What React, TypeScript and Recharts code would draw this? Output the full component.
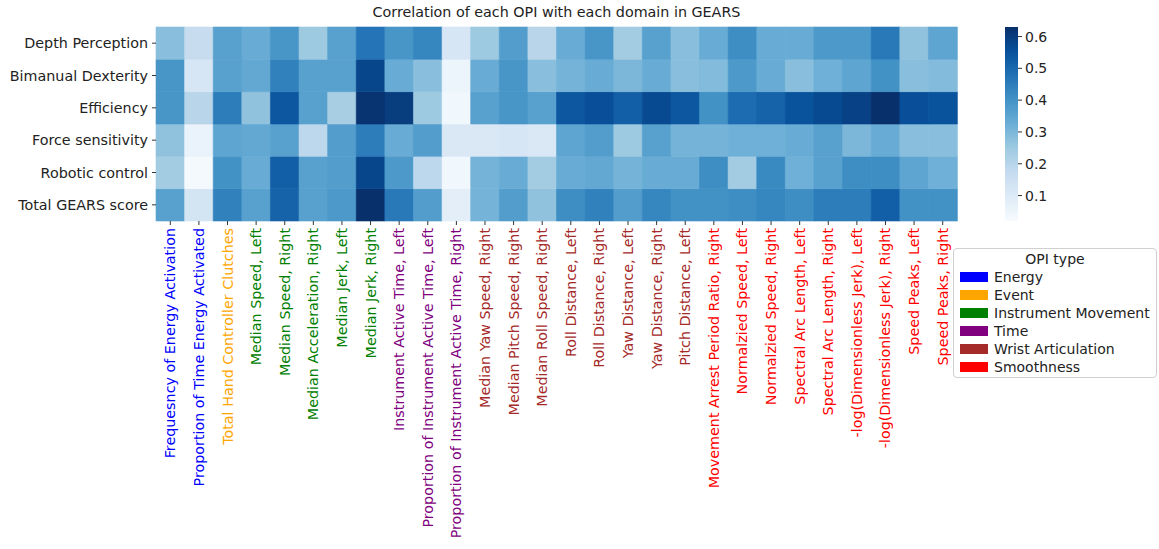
import React from 'react';
import { BarChart, Bar, XAxis, YAxis, Cell } from 'recharts';

const ROWS = ['Depth Perception', 'Bimanual Dexterity', 'Efficiency', 'Force sensitivity', 'Robotic control', 'Total GEARS score'];

const COLUMNS = [
  'Frequesncy of Energy Activation',
  'Proportion of Time Energy Activated',
  'Total Hand Controller Clutches',
  'Median Speed, Left',
  'Median Speed, Right',
  'Median Acceleration, Right',
  'Median Jerk, Left',
  'Median Jerk, Right',
  'Instrument Active Time, Left',
  'Proportion of Instrument Active Time, Left',
  'Proportion of Instrument Active Time, Right',
  'Median Yaw Speed, Right',
  'Median Pitch Speed, Right',
  'Median Roll Speed, Right',
  'Roll Distance, Left',
  'Roll Distance, Right',
  'Yaw Distance, Left',
  'Yaw Distance, Right',
  'Pitch Distance, Left',
  'Movement Arrest Period Ratio, Right',
  'Normalzied Speed, Left',
  'Normalzied Speed, Right',
  'Spectral Arc Length, Left',
  'Spectral Arc Length, Right',
  '-log(Dimensionless Jerk), Left',
  '-log(Dimensionless Jerk), Right',
  'Speed Peaks, Left',
  'Speed Peaks, Right',
];

const COLUMN_TYPES = [
  'Energy', 'Energy', 'Event',
  'Instrument Movement', 'Instrument Movement', 'Instrument Movement', 'Instrument Movement', 'Instrument Movement',
  'Time', 'Time', 'Time',
  'Wrist Articulation', 'Wrist Articulation', 'Wrist Articulation', 'Wrist Articulation', 'Wrist Articulation',
  'Wrist Articulation', 'Wrist Articulation', 'Wrist Articulation',
  'Smoothness', 'Smoothness', 'Smoothness', 'Smoothness', 'Smoothness', 'Smoothness', 'Smoothness', 'Smoothness', 'Smoothness',
];

const OPI_TYPES = ['Energy', 'Event', 'Instrument Movement', 'Time', 'Wrist Articulation', 'Smoothness'];
const OPI_COLORS = ['#0000ff', '#ffa500', '#008000', '#800080', '#a52a2a', '#ff0000'];

const depthPerception = [0.28, 0.17, 0.36, 0.33, 0.39, 0.25, 0.36, 0.47, 0.39, 0.43, 0.12, 0.25, 0.37, 0.20, 0.33, 0.39, 0.24, 0.36, 0.28, 0.33, 0.41, 0.33, 0.33, 0.38, 0.38, 0.46, 0.27, 0.35];
const bimanualDexterity = [0.39, 0.12, 0.36, 0.34, 0.44, 0.36, 0.36, 0.58, 0.33, 0.28, 0.05, 0.33, 0.39, 0.28, 0.31, 0.33, 0.30, 0.33, 0.28, 0.29, 0.38, 0.33, 0.28, 0.32, 0.35, 0.40, 0.28, 0.29];
const efficiency = [0.39, 0.20, 0.45, 0.27, 0.54, 0.36, 0.23, 0.62, 0.60, 0.25, 0.04, 0.36, 0.39, 0.36, 0.54, 0.56, 0.52, 0.57, 0.54, 0.40, 0.49, 0.51, 0.55, 0.57, 0.59, 0.63, 0.56, 0.55];
const forceSensitivity = [0.27, 0.06, 0.35, 0.34, 0.36, 0.19, 0.37, 0.45, 0.33, 0.37, 0.11, 0.11, 0.12, 0.11, 0.35, 0.37, 0.25, 0.36, 0.31, 0.31, 0.32, 0.32, 0.33, 0.36, 0.30, 0.33, 0.28, 0.28];
const roboticControl = [0.24, 0.03, 0.40, 0.33, 0.52, 0.36, 0.37, 0.58, 0.38, 0.19, 0.04, 0.31, 0.33, 0.24, 0.33, 0.34, 0.31, 0.33, 0.33, 0.41, 0.24, 0.42, 0.32, 0.36, 0.41, 0.41, 0.35, 0.32];
const totalGears = [0.36, 0.13, 0.44, 0.36, 0.51, 0.36, 0.38, 0.63, 0.46, 0.37, 0.08, 0.31, 0.37, 0.27, 0.41, 0.44, 0.37, 0.43, 0.40, 0.40, 0.41, 0.43, 0.41, 0.45, 0.45, 0.52, 0.40, 0.40];

const VALUES = [depthPerception, bimanualDexterity, efficiency, forceSensitivity, roboticControl, totalGears];

const VMIN = 0.02;
const VMAX = 0.63;
const COLORBAR_TICKS = [0.1, 0.2, 0.3, 0.4, 0.5, 0.6];

const BLUES = ['#f7fbff', '#deebf7', '#c6dbef', '#9ecae1', '#6baed6', '#4292c6', '#2171b5', '#08519c', '#08306b'];

function hexToRgb(h: string) {
  return [parseInt(h.slice(1, 3), 16), parseInt(h.slice(3, 5), 16), parseInt(h.slice(5, 7), 16)];
}

function blues(v: number) {
  let t = (v - VMIN) / (VMAX - VMIN);
  t = Math.max(0, Math.min(1, t));
  const pos = t * (BLUES.length - 1);
  const i = Math.min(Math.floor(pos), BLUES.length - 2);
  const f = pos - i;
  const a = hexToRgb(BLUES[i]);
  const b = hexToRgb(BLUES[i + 1]);
  const c = a.map((x, k) => Math.round(x + (b[k] - x) * f));
  return `rgb(${c[0]},${c[1]},${c[2]})`;
}

const data = COLUMNS.map((name, i) => {
  const d: any = { name, type: COLUMN_TYPES[i] };
  ROWS.forEach((_, j) => {
    d[`r${j}`] = 1;
  });
  return d;
});

const FONT = '"DejaVu Sans", sans-serif';
const FS = 14.3;

const XTick = (props: any) => {
  const { x, y, payload, index } = props;
  const type = COLUMN_TYPES[index];
  const color = OPI_COLORS[OPI_TYPES.indexOf(type)];
  return (
    <g transform={`translate(${x},${y})`}>
      <text
        x={0}
        y={0}
        transform="rotate(-90)"
        textAnchor="end"
        dominantBaseline="central"
        fill={color}
        fontSize={FS}
        fontFamily={FONT}
      >
        {payload.value}
      </text>
    </g>
  );
};

const cbData = [{ name: 'cb', v: [VMIN, VMAX] }];

export default function App() {
  const rowOrder = [5, 4, 3, 2, 1, 0];
  return (
    <div style={{ position: 'absolute', left: 0, top: 0, width: 1159, height: 549, background: '#fff', fontFamily: FONT }}>
      <div
        style={{
          position: 'absolute',
          left: 156,
          width: 801,
          top: 4,
          textAlign: 'center',
          fontSize: FS,
          color: '#222',
          fontFamily: FONT,
        }}
      >
        Correlation of each OPI with each domain in GEARS
      </div>
      <div style={{ position: 'absolute', left: 0, top: 0 }}>
        <BarChart
          width={1159}
          height={549}
          data={data}
          margin={{ top: 27, right: 202, bottom: 28, left: 0 }}
          barCategoryGap={0}
          barGap={0}
        >
          <XAxis
            dataKey="name"
            interval={0}
            tick={<XTick />}
            tickSize={4}
            tickMargin={3}
            axisLine={false}
            tickLine={{ stroke: '#333' }}
            height={300}
          />
          <YAxis
            type="number"
            domain={[0, 6]}
            ticks={[0.5, 1.5, 2.5, 3.5, 4.5, 5.5]}
            interval={0}
            tickFormatter={(v: number) => ROWS[5 - Math.floor(v)]}
            width={156}
            axisLine={false}
            tickSize={4}
            tickMargin={4}
            tickLine={{ stroke: '#333' }}
            tick={{ fill: '#222', fontSize: FS, fontFamily: FONT }}
          />
          {rowOrder.map((j) => (
            <Bar key={j} dataKey={`r${j}`} stackId="s" isAnimationActive={false}>
              {data.map((_, i) => (
                <Cell key={i} fill={blues(VALUES[j][i])} stroke={blues(VALUES[j][i])} strokeWidth={0.6} />
              ))}
            </Bar>
          ))}
        </BarChart>
      </div>
      <div style={{ position: 'absolute', left: 1005, top: 0 }}>
        <BarChart
          width={60}
          height={549}
          data={cbData}
          margin={{ top: 27, right: 0, bottom: 328, left: 0 }}
          barCategoryGap={0}
        >
          <defs>
            <linearGradient id="cbGrad" x1="0" y1="1" x2="0" y2="0">
              {BLUES.map((c, i) => (
                <stop key={i} offset={`${(i / (BLUES.length - 1)) * 100}%`} stopColor={c} />
              ))}
            </linearGradient>
          </defs>
          <XAxis dataKey="name" hide />
          <YAxis
            type="number"
            orientation="right"
            domain={[VMIN, VMAX]}
            ticks={COLORBAR_TICKS}
            interval={0}
            width={47}
            axisLine={false}
            tickSize={4}
            tickMargin={3}
            tickLine={{ stroke: '#333' }}
            tickFormatter={(v: number) => v.toFixed(1)}
            tick={{ fill: '#222', fontSize: 14, fontFamily: FONT, textAnchor: 'start' }}
          />
          <Bar dataKey="v" fill="url(#cbGrad)" isAnimationActive={false} />
        </BarChart>
      </div>
      <div
        style={{
          position: 'absolute',
          left: 953,
          top: 248,
          width: 204,
          height: 130,
          border: '1px solid #d0d0d0',
          borderRadius: 4,
          boxSizing: 'border-box',
          fontFamily: FONT,
          fontSize: 14,
          color: '#222',
        }}
      >
        <div style={{ textAlign: 'center', marginTop: 1, height: 18, lineHeight: '18px' }}>OPI type</div>
        {OPI_TYPES.map((t, i) => (
          <div key={t} style={{ display: 'flex', alignItems: 'center', height: 18, paddingLeft: 6, whiteSpace: 'nowrap' }}>
            <span style={{ display: 'inline-block', width: 28, height: 10, background: OPI_COLORS[i], marginRight: 6, flex: 'none' }} />
            <span>{t}</span>
          </div>
        ))}
      </div>
    </div>
  );
}
